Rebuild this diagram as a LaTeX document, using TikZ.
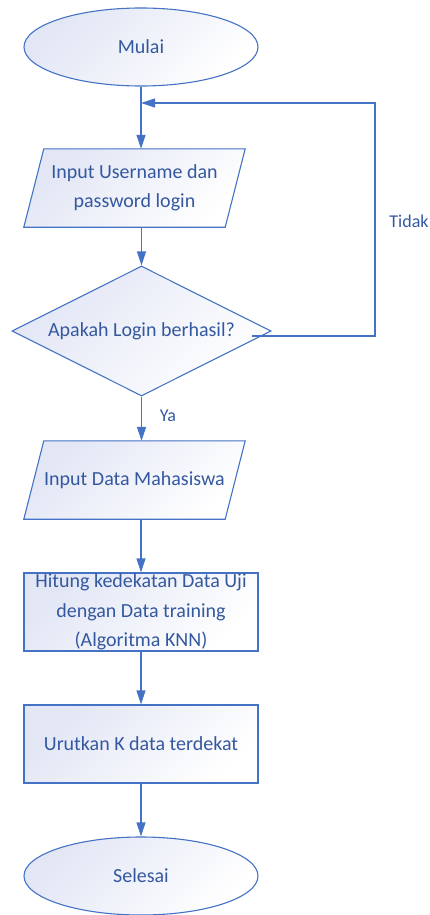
\documentclass[tikz,border=0pt]{standalone}
\usepackage{fontspec}
\setmainfont{Carlito}
\usetikzlibrary{shapes.geometric,arrows.meta,backgrounds}
\definecolor{lineblue}{RGB}{68,114,196}
\definecolor{textblue}{RGB}{52,88,160}
\definecolor{lav}{RGB}{226,230,245}
\begin{document}
\begin{tikzpicture}[x=1pt,y=-1pt,
  skin/.style={draw=lineblue, line width=1.1pt, top color=lav, bottom color=white, shading angle=45},
  txt/.style={text=textblue, font=\fontsize{20}{29.5}\selectfont, align=center, inner sep=0pt},
  box/.style={skin, txt},
  term/.style={box, ellipse, minimum width=234pt, minimum height=78pt},
  io/.style={txt, rectangle, minimum width=201pt, minimum height=78pt},
  proc/.style={box, rectangle, minimum width=234pt, minimum height=78pt},
  dec/.style={box, diamond, aspect=2, minimum width=259pt, minimum height=130pt},
  conn/.style={draw=lineblue, line width=1.1pt, -{Triangle[length=14pt,width=9pt]}},
  lbl/.style={text=textblue, font=\fontsize{18}{22}\selectfont, inner sep=0pt}
]
\useasboundingbox (0,0) rectangle (429,915);
\node[term] (start) at (141,47) {Mulai};
\node[io] (in1) at (134.5,188) {Input Username dan\\password login};
\node[dec] (cek) at (141.5,331) {Apakah Login berhasil?};
\node[io] (in2) at (134.5,480) {Input Data Mahasiswa};
\node[proc] (hit) at (141,612) {Hitung kedekatan Data Uji\\dengan Data training\\(Algoritma KNN)};
\node[proc] (urut) at (141,744) {Urutkan K data terdekat};
\node[term] (end) at (141,876) {Selesai};
\begin{scope}[on background layer]
  \foreach \n in {in1,in2}
    \path[skin] ([xshift=10pt]\n.north west) -- ([xshift=10pt]\n.north east)
      -- ([xshift=-10pt]\n.south east) -- ([xshift=-10pt]\n.south west) -- cycle;
\end{scope}
\coordinate (join) at (141,103);
\coordinate (corner) at (375,103);
\coordinate (loopstart) at ([xshift=-20pt,yshift=-5pt]cek.east);

\draw[conn] (start.south) -- (start.south |- in1.north);
\draw[conn] (cek.north |- in1.south) -- (cek.north);
\draw[conn] (cek.south) -- (cek.south |- in2.north);
\draw[conn] (hit.north |- in2.south) -- (hit.north);
\draw[conn] (hit.south) -- (urut.north);
\draw[conn] (urut.south) -- (end.north);
\draw[conn] (loopstart) -- (corner |- loopstart) -- (corner) -- (join);

\node[lbl] (tidak) at (409,221) {Tidak};
\node[lbl] (ya) at (168,416) {Ya};
\end{tikzpicture}
\end{document}
